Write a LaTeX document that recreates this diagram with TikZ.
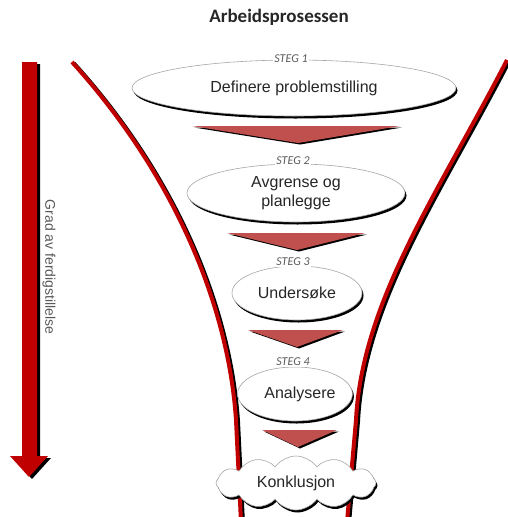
\documentclass[tikz,border=0pt]{standalone}
\usepackage{fontspec}
\setmainfont{Liberation Sans}
\newfontfamily\calfont{Carlito}
\usetikzlibrary{shapes.geometric,shapes.symbols,shadows}
\definecolor{funred}{HTML}{C00000}
\definecolor{trired}{HTML}{C0504D}
\definecolor{txtcol}{HTML}{262626}
\definecolor{stegcol}{HTML}{595959}
\begin{document}
\begin{tikzpicture}[x=1pt,y=-1pt,
  stepell/.style={ellipse, draw=gray!70, line width=0.6pt, fill=white, inner sep=0pt,
    text=txtcol, font=\fontsize{16}{19}\selectfont, align=center,
    drop shadow={shadow xshift=1.5pt, shadow yshift=-2.5pt, fill=black, opacity=1}},
  steglabel/.style={fill=white, inner sep=1.5pt, text=stegcol,
    font=\calfont\itshape\fontsize{12}{12}\selectfont},
  funnel/.style={draw=funred, line width=4pt},
  funshadow/.style={draw=black, line width=4pt},
  tri/.style={fill=trired},
  trishadow/.style={fill=black}
]
\useasboundingbox (0,0) rectangle (508,517);

% funnel walls
\draw[funshadow, shift={(2,1.5)}] (72,62) .. controls (170,170) and (228,300) .. (236,420) -- (241,522);
\draw[funnel] (72,62) .. controls (170,170) and (228,300) .. (236,420) -- (241,522);
\draw[funshadow, shift={(2,1.5)}] (507,60) .. controls (440,190) and (362,300) .. (356,420) -- (347,522);
\draw[funnel] (507,60) .. controls (440,190) and (362,300) .. (356,420) -- (347,522);

% title
\node[font=\calfont\bfseries\fontsize{19}{19}\selectfont, text=txtcol] (title) at (279,17) {Arbeidsprosessen};

% left arrow
\fill[black, shift={(3,2)}] (22,62) -- (37,62) -- (37,456) -- (48,456) -- (29,477) -- (10,456) -- (22,456) -- cycle;
\fill[funred] (22,62) -- (37,62) -- (37,456) -- (48,456) -- (29,477) -- (10,456) -- (22,456) -- cycle;
\node[rotate=-90, text=stegcol, font=\fontsize{14}{14}\selectfont] (grad) at (49,267) {Grad av ferdigstillelse};

% steps
\node[stepell, minimum width=324pt, minimum height=56pt] (e1) at (294,88) {Definere problemstilling};
\node[stepell, minimum width=218pt, minimum height=58pt] (e2) at (296,193) {Avgrense og\\planlegge};
\node[stepell, minimum width=130pt, minimum height=54pt] (e3) at (297,293) {Undersøke};
\node[stepell, minimum width=102pt, minimum height=54pt] (e4) at (295,394) {\hspace*{10pt}Analysere};

\node[steglabel] (s1) at (291,59) {STEG 1};
\node[steglabel] (s2) at (293,161) {STEG 2};
\node[steglabel] (s3) at (293,262) {STEG 3};
\node[steglabel] (s4) at (293,362) {STEG 4};

% triangles
\fill[trishadow, shift={(2,1.5)}] (192,126) -- (400,126) -- (298,143) -- cycle;
\fill[tri] (192,126) -- (400,126) -- (298,143) -- cycle;
\fill[trishadow, shift={(2,1.5)}] (227,233) -- (365,233) -- (297,250) -- cycle;
\fill[tri] (227,233) -- (365,233) -- (297,250) -- cycle;
\fill[trishadow, shift={(2,1.5)}] (248,330) -- (343,330) -- (297,347) -- cycle;
\fill[tri] (248,330) -- (343,330) -- (297,347) -- cycle;
\fill[trishadow, shift={(2,1.5)}] (262,430) -- (337,430) -- (298,447) -- cycle;
\fill[tri] (262,430) -- (337,430) -- (298,447) -- cycle;

% conclusion cloud
\node[cloud, cloud puffs=12, cloud puff arc=110, aspect=3, inner sep=0pt,
  minimum width=160pt, minimum height=54pt, draw=gray!70, line width=0.6pt, fill=white,
  drop shadow={shadow xshift=1.5pt, shadow yshift=-2.5pt, fill=black, opacity=1},
  text=txtcol, font=\fontsize{16}{19}\selectfont] (c) at (296,483) {Konklusjon};
\end{tikzpicture}
\end{document}
